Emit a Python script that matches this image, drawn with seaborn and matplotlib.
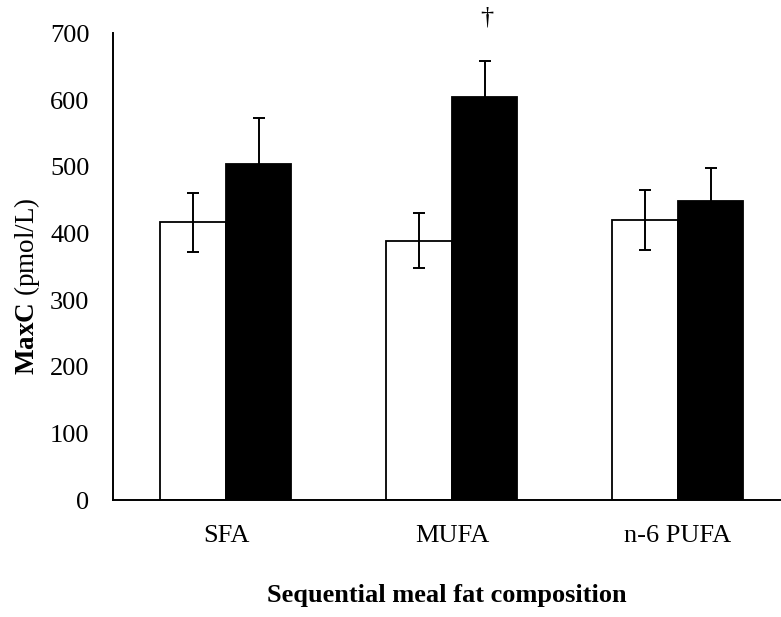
import matplotlib
matplotlib.use("Agg")
import matplotlib.pyplot as plt
import seaborn as sns
import pandas as pd

# Fat composition of the sequential meal
categories = ["SFA", "MUFA", "n-6 PUFA"]
# Two conditions per fat type (open and filled bars)
conditions = ["Open", "Filled"]
open_means = [417, 389, 420]
open_err = [44, 41, 45]
filled_means = [504, 604, 449]
filled_err = [69, 55, 49]
y_ticks = [0, 100, 200, 300, 400, 500, 600, 700]
# Significance marker placed above the MUFA filled bar
marker_text = "\u2020"
marker_category = "MUFA"
marker_value = 723

df = pd.DataFrame({
    "fat": categories * 2,
    "cond": [conditions[0]] * 3 + [conditions[1]] * 3,
    "value": open_means + filled_means,
    "err": open_err + filled_err,
})

sns.set_style("white")
plt.rcParams["font.family"] = ["Liberation Serif", "DejaVu Serif"]
plt.rcParams["mathtext.fontset"] = "custom"
plt.rcParams["mathtext.rm"] = "Liberation Serif"
plt.rcParams["mathtext.bf"] = "Liberation Serif:bold"
plt.rcParams["text.color"] = "black"
plt.rcParams["axes.labelcolor"] = "black"
plt.rcParams["xtick.color"] = "black"
plt.rcParams["ytick.color"] = "black"

fig = plt.figure(figsize=(7.81, 6.17), dpi=100)
ax = fig.add_axes([0.1447, 0.189, 0.8553, 0.757])

sns.barplot(data=df, x="fat", y="value", hue="cond", order=categories,
            hue_order=conditions, palette=["white", "black"],
            edgecolor="black", linewidth=1.3, width=0.58, errorbar=None,
            legend=False, saturation=1, ax=ax)

# Error bars at the centre of each drawn bar
bars = [p for p in ax.patches if p.get_height() > 0]
bars.sort(key=lambda p: p.get_x())
for p in bars:
    xc = p.get_x() + p.get_width() / 2
    h = p.get_height()
    row = df[df["value"] == round(h)].iloc[0]
    ax.errorbar(xc, h, yerr=row["err"], fmt="none", ecolor="black",
                elinewidth=1.4, capsize=4.3, capthick=1.4, zorder=5)

# Dagger above the MUFA filled bar
mi = categories.index(marker_category)
ax.text(mi + 0.155, marker_value, marker_text, ha="center", va="center",
        fontsize=19, clip_on=False)

ax.set_xlim(-0.5, 2.457)
ax.set_ylim(0, 700)
ax.set_yticks(y_ticks)
ax.tick_params(axis="y", direction="in", length=5, width=1.3, labelsize=19, pad=17)
ax.tick_params(axis="x", length=0, labelsize=19, pad=17.5)

for s in ["top", "right"]:
    ax.spines[s].set_visible(False)
for s in ["left", "bottom"]:
    ax.spines[s].set_linewidth(1.4)
    ax.spines[s].set_color("black")

ax.set_ylabel(r"$\mathbf{MaxC}$ (pmol/L)", fontsize=19.5)
ax.yaxis.set_label_coords(-0.106, 0.459)
ax.set_xlabel("Sequential meal fat composition", fontsize=19,
              fontweight="bold", labelpad=27)

fig.savefig("out.png", dpi=100)
